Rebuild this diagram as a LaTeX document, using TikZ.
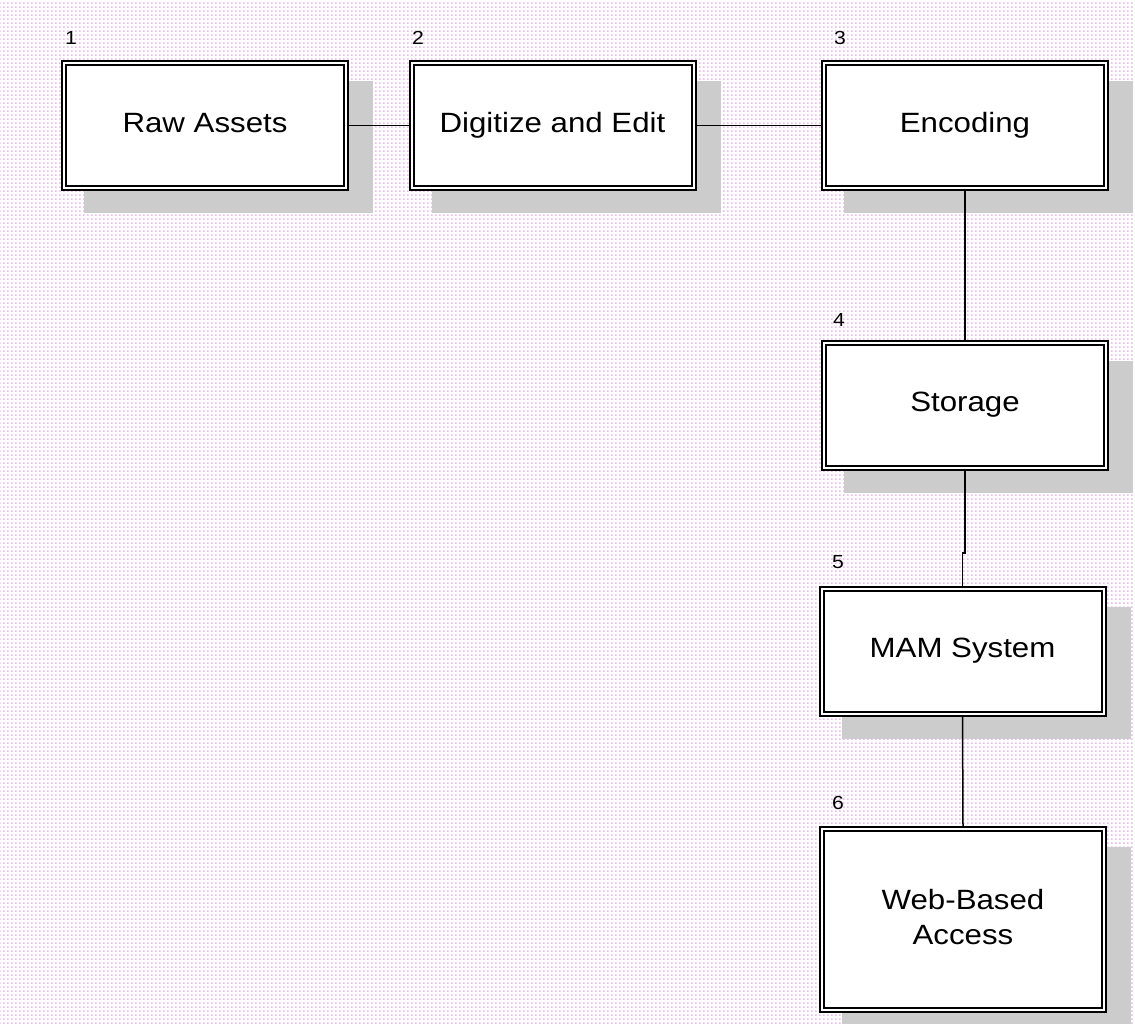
\documentclass[tikz,border=0pt]{standalone}
\usepackage{fontspec}
\setmainfont{Liberation Sans}
\newfontfamily\boxfont{Liberation Sans}[FakeStretch=1.12]
\usetikzlibrary{backgrounds,patterns}
\definecolor{bgdot}{RGB}{236,186,236}
\definecolor{shadowc}{RGB}{204,204,204}
\pgfdeclarepatterninherentlycolored{pinkdots}{\pgfpointorigin}{\pgfpoint{4bp}{4bp}}{\pgfpoint{4bp}{4bp}}{%
  \pgfsetfillcolor{bgdot}%
  \pgfpathrectangle{\pgfpointorigin}{\pgfpoint{2bp}{2bp}}\pgfusepath{fill}}
\tikzset{
  stepbox/.style={rectangle, draw=black, fill=white, double=white, line width=2bp, double distance=2bp,
    minimum width=282bp, minimum height=125bp, inner sep=0pt, outer sep=3bp,
    align=center, font=\boxfont\fontsize{28}{35}\selectfont,
    execute at begin node={\vphantom{Dg}}},
  tallbox/.style={stepbox, minimum height=181bp},
  numlabel/.style={inner sep=0pt, font=\boxfont\fontsize{19}{21}\selectfont},
  link/.style={draw=black, line width=1.5bp},
  boxshadow/.style={fill=shadowc}
}
\begin{document}
\begin{tikzpicture}[x=1bp,y=-1bp]
\useasboundingbox (0,0) rectangle (1135,1024);
\node[stepbox] (A) at (205,125.5) {Raw Assets};
\node[stepbox] (B) at (552.5,125.5) {Digitize and Edit};
\node[stepbox] (C) at (965,125.5) {Encoding};
\node[stepbox] (D) at (965,405) {Storage};
\node[stepbox] (E) at (962.5,651) {MAM System};
\node[tallbox] (F) at (963,919.5) {Web-Based\\Access};
\node[numlabel] (n1) at (71,37.5) {1};
\node[numlabel] (n2) at (418,37.5) {2};
\node[numlabel] (n3) at (840,37.5) {3};
\node[numlabel] (n4) at (839,320) {4};
\node[numlabel] (n5) at (838,562) {5};
\node[numlabel] (n6) at (838,803) {6};
\coordinate (j) at (965,553);
\begin{scope}[on background layer]
  \fill[white] (0,0) rectangle (1135,1024);
  \fill[pattern=pinkdots] (0,0) rectangle (1135,1024);
  \foreach \n in {A,B,C,D,E,F}{
    \fill[boxshadow] ([shift={(23,21)}]\n.north west) rectangle ([shift={(24,22)}]\n.south east);
  }
  \draw[link] (A.east) -- (B.west);
  \draw[link] (B.east) -- (C.west);
  \draw[link] (C.south) -- (D.north);
  \draw[link] (D.south) -- (j) -| (E.north);
  \draw[link] (E.south) -- (F.north);
\end{scope}
\end{tikzpicture}
\end{document}
